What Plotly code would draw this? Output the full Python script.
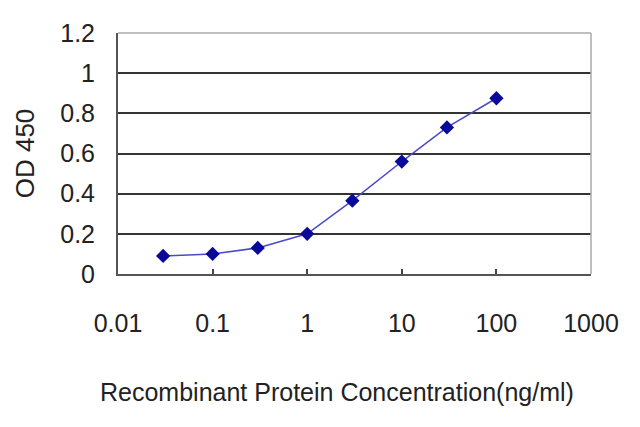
import plotly.graph_objects as go

concentration = [0.03, 0.1, 0.3, 1, 3, 10, 30, 100]
od450 = [0.09, 0.10, 0.13, 0.20, 0.365, 0.56, 0.73, 0.875]
x_ticks = [0.01, 0.1, 1, 10, 100, 1000]
x_tick_labels = ["0.01", "0.1", "1", "10", "100", "1000"]
y_ticks = [0, 0.2, 0.4, 0.6, 0.8, 1, 1.2]
y_tick_labels = ["0", "0.2", "0.4", "0.6", "0.8", "1", "1.2"]
x_title = "Recombinant Protein Concentration(ng/ml)"
y_title = "OD 450"

FONT = "Liberation Sans, Arial, sans-serif"

fig = go.Figure()
fig.add_trace(go.Scatter(
    x=concentration, y=od450, mode="lines+markers",
    line=dict(color="#4a4ac4", width=1.5),
    marker=dict(symbol="diamond", size=11, color="#0a0a9a"),
    showlegend=False,
))

# light grey top and right frame
fig.add_shape(type="line", xref="paper", yref="paper", x0=0, x1=1, y0=1, y1=1,
              line=dict(color="#aaaaaa", width=1.5))
fig.add_shape(type="line", xref="paper", yref="paper", x0=1, x1=1, y0=0, y1=1,
              line=dict(color="#aaaaaa", width=1.5))

# x-axis title (slightly left of plot centre, as in the original)
fig.add_annotation(text=x_title, xref="paper", yref="paper", x=0.463, y=-0.49,
                   xanchor="center", yanchor="middle", showarrow=False,
                   font=dict(size=25, family=FONT, color="#222222"))

fig.update_layout(
    width=632, height=419,
    margin=dict(l=110, r=49, t=25, b=153),
    paper_bgcolor="white", plot_bgcolor="white",
    font=dict(family=FONT, size=25, color="#222222"),
    xaxis=dict(
        type="log", range=[-2, 3], automargin=False,
        tickvals=x_ticks, ticktext=x_tick_labels,
        ticks="inside", ticklen=5, tickcolor="#444", tickwidth=1.5,
        ticklabelstandoff=26,
        showgrid=False, zeroline=False,
        showline=True, linecolor="#555", linewidth=2,
    ),
    yaxis=dict(
        range=[0, 1.2], automargin=False,
        tickvals=y_ticks, ticktext=y_tick_labels,
        ticks="", ticklabelstandoff=16,
        showgrid=True, gridcolor="#333", gridwidth=1.5,
        zeroline=False,
        showline=True, linecolor="#555", linewidth=2,
        title=dict(text=y_title, font=dict(size=26), standoff=18),
    ),
)

fig.write_html("out.html")
